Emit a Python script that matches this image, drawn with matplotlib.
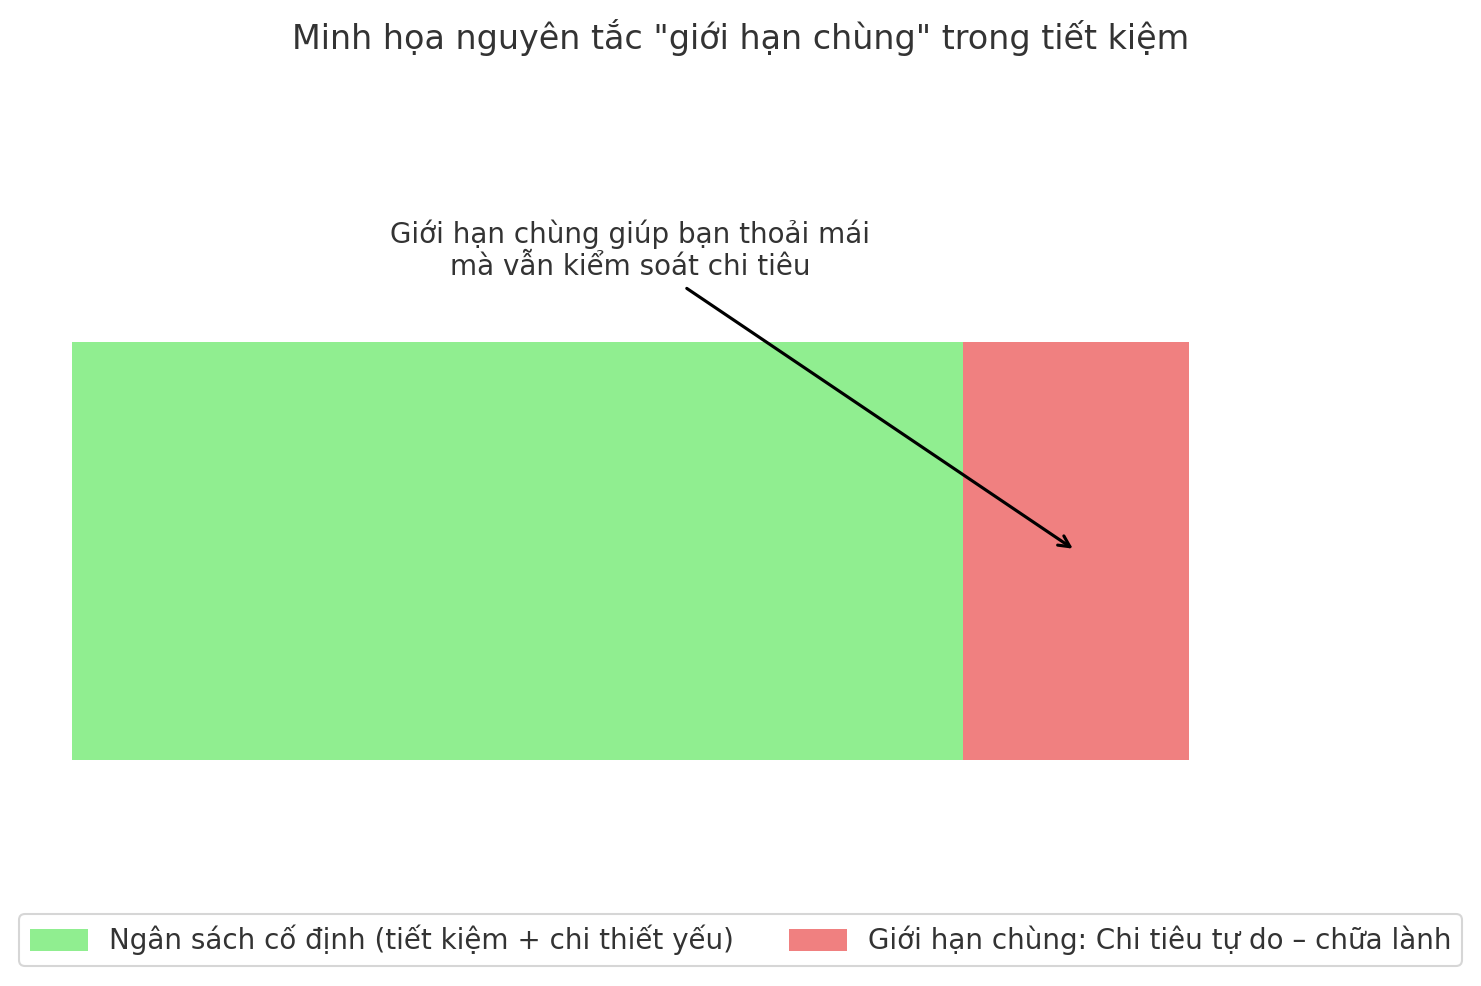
import matplotlib
matplotlib.use("Agg")
import matplotlib.pyplot as plt
import seaborn as sns

sns.set_theme(style="whitegrid")
plt.rcParams['font.family'] = ['DejaVu Sans']

categories = ["Ngân sách cố định (tiết kiệm + chi thiết yếu)",
              "Giới hạn chùng: Chi tiêu tự do – chữa lành"]
values = [79.8, 20.2]
colors = ["lightgreen", "lightcoral"]
title = 'Minh họa nguyên tắc "giới hạn chùng" trong tiết kiệm'
note = "Giới hạn chùng giúp bạn thoải mái\nmà vẫn kiểm soát chi tiêu"

W, H, DPI = 1481, 986, 150
fig = plt.figure(figsize=(W / DPI, H / DPI), dpi=DPI)
ax = fig.add_axes([16 / W, 1 - 781 / H, 1229 / W, 460 / H])

left = 0
for lab, v, c in zip(categories, values, colors):
    ax.barh(0, v, left=left, height=0.8, color=c, label=lab, linewidth=0)
    left += v

ax.set_xlim(-5, 105)
ax.set_ylim(-0.44, 0.44)
ax.axis("off")

ax.annotate(note, xy=(89.9, 0.0), xytext=(50, 0.575), ha="center", va="center",
            fontsize=13.3, color="#333333",
            arrowprops=dict(arrowstyle="->", color="black", lw=1.5))

fig.text(0.5, 1 - 38 / H, title, ha="center", va="center", fontsize=16, color="#333333")

leg = fig.legend(loc="lower center", bbox_to_anchor=(0.5, 20 / H), ncol=2,
                 fontsize=13.3, frameon=True, borderaxespad=0,
                 handlelength=2.09, handleheight=0.83, handletextpad=0.76,
                 borderpad=0.38)
for t in leg.get_texts():
    t.set_color("#333333")

fig.savefig("out.png", dpi=DPI)
